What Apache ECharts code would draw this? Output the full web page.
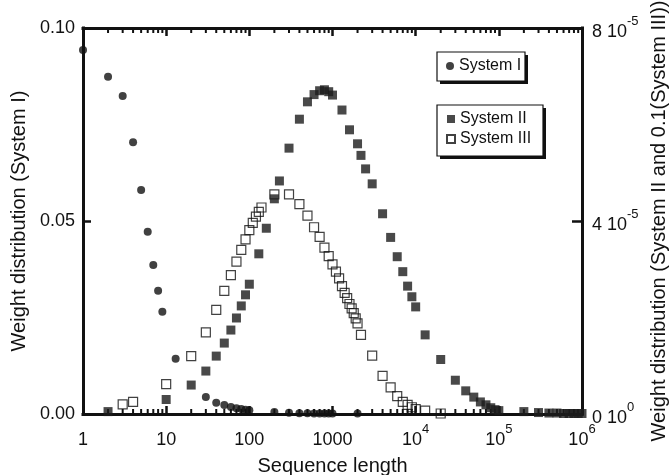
<!DOCTYPE html>
<html>
<head>
<meta charset="utf-8">
<script src="https://cdn.jsdelivr.net/npm/echarts@6/dist/echarts.min.js"></script>
<style>
  html, body { margin: 0; padding: 0; background: #fff; }
  #main { width: 670px; height: 475px; }
</style>
</head>
<body>
<div id="main"></div>
<script>
// System I: weight distribution (left axis)
const sysIx = [1, 2, 3, 4, 5, 6, 7, 8, 9, 13, 30, 40, 50, 60, 70, 80, 90, 100,
  200, 300, 400, 500, 600, 700, 800, 900, 1000, 2000];
const sysIy = [0.0943, 0.0874, 0.0824, 0.0704, 0.0580, 0.0472, 0.0386, 0.0319, 0.0265, 0.0143,
  0.0044, 0.0029, 0.0023, 0.0018, 0.0015, 0.0013, 0.0011, 0.0010,
  0.0005, 0.0003, 0.0002, 0.0002, 0.0001, 0.0001, 0.0001, 0.0001, 0.0001, 0.0001];

// System II (right axis, units of 10^-5)
const sysIIx = [2, 10, 20, 30, 40, 50, 60, 70, 80, 90, 100, 130, 160, 200, 230, 300, 400, 500,
  600, 700, 800, 900, 1000, 1300, 1600, 2000, 2200, 2500, 3000, 4000, 5000, 6000, 7000, 8000,
  9000, 10000, 13000, 20000, 30000, 40000, 50000, 60000, 70000, 80000, 90000, 100000,
  200000, 300000, 400000, 500000, 600000, 700000, 800000, 900000, 1000000];
const sysIIy = [0.05, 0.30, 0.60, 0.89, 1.20, 1.47, 1.74, 1.99, 2.24, 2.47, 2.69, 3.32, 3.85, 4.46, 4.83, 5.51, 6.11, 6.47,
  6.62, 6.70, 6.72, 6.68, 6.61, 6.30, 5.89, 5.60, 5.36, 5.08, 4.77, 4.15, 3.66, 3.26, 2.95, 2.65,
  2.43, 2.22, 1.64, 1.13, 0.70, 0.48, 0.35, 0.25, 0.19, 0.13, 0.09, 0.07,
  0.05, 0.03, 0.02, 0.02, 0.01, 0.01, 0.01, 0.01, 0.01];

// System III x 0.1 (right axis, units of 10^-5)
const sysIIIx = [3, 4, 10, 20, 30, 40, 50, 60, 70, 80, 90, 100, 110, 120, 130, 140, 200, 300, 400, 500,
  600, 700, 800, 900, 1000, 1100, 1200, 1300, 1400, 1500, 1600, 1700, 1800, 1900, 2000, 2200,
  3000, 4000, 5000, 6000, 7000, 8000, 9000, 10000, 13000, 20000];
const sysIIIy = [0.20, 0.25, 0.62, 1.20, 1.69, 2.16, 2.55, 2.88, 3.16, 3.40, 3.62, 3.81, 3.96, 4.09, 4.19, 4.28, 4.55, 4.55, 4.35, 4.11,
  3.87, 3.67, 3.45, 3.27, 3.10, 2.95, 2.81, 2.65, 2.51, 2.40, 2.28, 2.19, 2.09, 1.98, 1.88, 1.64,
  1.21, 0.79, 0.55, 0.37, 0.25, 0.19, 0.14, 0.10, 0.07, 0.01];

// tick labels
const xTickBase = ['1', '10', '100', '1000', '10', '10', '10'];
const xTickSup = ['', '', '', '', '4', '5', '6'];
const rightTickBase = ['0 10', '4 10', '8 10'];
const rightTickSup = ['0', '-5', '-5'];
const minorSteps = [2, 3, 4, 5, 6, 7, 8, 9];
const decades = [1, 10, 100, 1000, 10000, 100000];

const FONT = 'Liberation Sans, Arial, sans-serif';
const INK = '#111';

const zip = (xs, ys) => xs.map((x, i) => [x, ys[i]]);

const supRich = {
  b: { fontSize: 18, lineHeight: 26, verticalAlign: 'bottom', fontFamily: FONT, color: INK },
  sup: { fontSize: 13, lineHeight: 11, verticalAlign: 'top', fontFamily: FONT, color: INK }
};

const axisLine = () => ({ show: true, onZero: false, lineStyle: { color: INK, width: 3, cap: 'square' } });
const legendBase = {
  orient: 'vertical',
  itemWidth: 8, itemHeight: 8,
  textStyle: { fontSize: 16, fontFamily: FONT, color: INK },
  selectedMode: false,
  z: 10
};

// framed legend boxes with a hard drop shadow
const boxGraphic = (x, y, w, h) => [
  { type: 'rect', z: 5, shape: { x: x + 3, y: y + 3, width: w, height: h }, style: { fill: INK } },
  { type: 'rect', z: 6, shape: { x: x, y: y, width: w, height: h }, style: { fill: '#fff', stroke: INK, lineWidth: 1.2 } }
];

const chart = echarts.init(document.getElementById('main'));

const option = {
  animation: false,
  backgroundColor: '#fff',
  grid: { left: 83, right: 88, top: 28, bottom: 61, containLabel: false, outerBoundsMode: 'none' },
  legend: [
    Object.assign({}, legendBase, {
      data: ['System I'], left: 437, top: 52, padding: [6, 5, 6, 9]
    }),
    Object.assign({}, legendBase, {
      data: ['System II', 'System III'], left: 437, top: 105, padding: [6, 12, 6, 9], itemGap: 4
    })
  ],
  xAxis: [
    {
      type: 'log', logBase: 10, min: 1, max: 1e6, position: 'bottom',
      name: 'Sequence length', nameLocation: 'middle', nameGap: 42,
      nameTextStyle: { fontSize: 20, fontFamily: FONT, color: INK },
      axisLine: axisLine(),
      axisTick: { inside: true, length: 8, lineStyle: { color: INK, width: 2.5 } },
      axisLabel: {
        margin: 9,
        formatter: (v) => {
          const i = Math.round(Math.log10(v));
          return '{b|' + xTickBase[i] + '}' + (xTickSup[i] ? '{sup|' + xTickSup[i] + '}' : '');
        },
        rich: supRich
      },
      splitLine: { show: false }
    },
    {
      type: 'log', logBase: 10, min: 1, max: 1e6, position: 'top',
      axisLine: axisLine(),
      axisTick: { inside: true, length: 8, lineStyle: { color: INK, width: 2.5 } },
      axisLabel: { show: false },
      splitLine: { show: false }
    }
  ],
  yAxis: [
    {
      type: 'value', min: 0, max: 0.1, interval: 0.05, position: 'left',
      name: 'Weight distribution (System I)', nameLocation: 'middle', nameGap: 50,
      nameTextStyle: { fontSize: 20, fontFamily: FONT, color: INK },
      axisLine: axisLine(),
      axisTick: { inside: true, length: 8, lineStyle: { color: INK, width: 2.5 } },
      axisLabel: { margin: 8, fontSize: 18, fontFamily: FONT, color: INK, formatter: (v) => v.toFixed(2) },
      splitLine: { show: false }
    },
    {
      type: 'value', min: 0, max: 8, interval: 4, position: 'right',
      name: 'Weight distribution (System II and 0.1(System III))', nameLocation: 'middle', nameGap: 67,
      nameRotate: 90,
      nameTextStyle: { fontSize: 20, fontFamily: FONT, color: INK },
      axisLine: axisLine(),
      axisTick: { inside: true, length: 10, lineStyle: { color: INK, width: 2.5 } },
      axisLabel: {
        margin: 10,
        formatter: (v) => {
          const i = Math.round(v / 4);
          return '{b|' + rightTickBase[i] + '}{sup|' + rightTickSup[i] + '}';
        },
        rich: supRich
      },
      splitLine: { show: false }
    }
  ],
  series: [
    {
      name: 'System I', type: 'scatter', xAxisIndex: 0, yAxisIndex: 0,
      symbol: 'circle', symbolSize: 8, clip: false,
      itemStyle: { color: INK },
      data: zip(sysIx, sysIy)
    },
    {
      name: 'System III', type: 'scatter', xAxisIndex: 0, yAxisIndex: 1,
      symbol: 'rect', symbolSize: 9, clip: false,
      itemStyle: { color: 'rgba(255,255,255,0)', borderColor: INK, borderWidth: 1.2 },
      data: zip(sysIIIx, sysIIIy)
    },
    {
      name: 'System II', type: 'scatter', xAxisIndex: 0, yAxisIndex: 1,
      symbol: 'rect', symbolSize: 9, clip: false,
      itemStyle: { color: '#1b1b1b' },
      data: zip(sysIIx, sysIIy)
    }
  ]
};

chart.setOption(option);

// minor ticks on the log axes (2..9 per decade), placed through the axis scale
const yBottom = chart.convertToPixel({ yAxisIndex: 0 }, 0);
const yTop = chart.convertToPixel({ yAxisIndex: 0 }, 0.1);
const extras = [].concat(boxGraphic(437, 52, 88, 29), boxGraphic(437, 105, 106, 51));
decades.forEach((d) => {
  minorSteps.forEach((m) => {
    const x = chart.convertToPixel({ xAxisIndex: 0 }, d * m);
    extras.push({ type: 'line', z: 1, shape: { x1: x, y1: yBottom, x2: x, y2: yBottom - 5 }, style: { stroke: INK, lineWidth: 2 } });
    extras.push({ type: 'line', z: 1, shape: { x1: x, y1: yTop, x2: x, y2: yTop + 5 }, style: { stroke: INK, lineWidth: 2 } });
  });
});
chart.setOption({ graphic: extras });
</script>
</body>
</html>
